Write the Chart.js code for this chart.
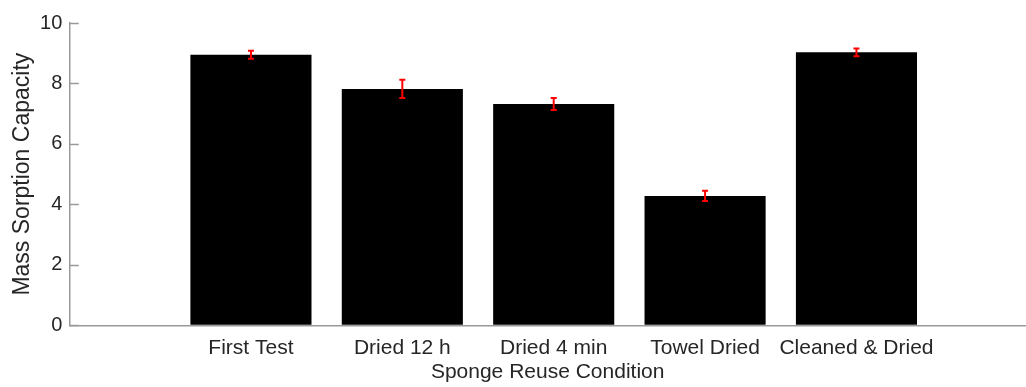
<!DOCTYPE html>
<html>
<head>
<meta charset="utf-8">
<script src="https://cdn.jsdelivr.net/npm/chart.js@4/dist/chart.umd.min.js"></script>
<style>
  html, body { margin: 0; padding: 0; background: #fff; overflow: hidden; }
  #wrap { width: 1026px; height: 387px; }
</style>
</head>
<body>
<div id="wrap"><canvas id="c" width="1026" height="387"></canvas></div>
<script>
// Sponge reuse test results
const categories = ['First Test', 'Dried 12 h', 'Dried 4 min', 'Towel Dried', 'Cleaned & Dried'];
const capacity = [8.95, 7.82, 7.32, 4.28, 9.03];
const capacityErr = [0.13, 0.30, 0.20, 0.17, 0.13];
const positions = [1, 2, 3, 4, 5];
const yTicks = [0, 2, 4, 6, 8, 10];

const FONT = "'Liberation Sans', Arial, Helvetica, sans-serif";
const TEXT = '#262626';
const AXIS = '#999999';

// Red error bars with caps, placed through the chart's scales
const errorBars = {
  id: 'errorBars',
  afterDatasetsDraw(chart) {
    const ctx = chart.ctx;
    const y = chart.scales.y;
    const meta = chart.getDatasetMeta(0);
    ctx.save();
    ctx.strokeStyle = '#ff0000';
    ctx.lineWidth = 2;
    meta.data.forEach((bar, i) => {
      const x = bar.x;
      const top = y.getPixelForValue(capacity[i] + capacityErr[i]);
      const bot = y.getPixelForValue(capacity[i] - capacityErr[i]);
      const cap = 3;
      ctx.beginPath();
      ctx.moveTo(x, top); ctx.lineTo(x, bot);
      ctx.moveTo(x - cap, top); ctx.lineTo(x + cap, top);
      ctx.moveTo(x - cap, bot); ctx.lineTo(x + cap, bot);
      ctx.stroke();
    });
    ctx.restore();
  }
};

// Inward-pointing tick marks on the value axis
const inwardTicks = {
  id: 'inwardTicks',
  afterDraw(chart) {
    const ctx = chart.ctx;
    const y = chart.scales.y;
    const x0 = chart.chartArea.left;
    ctx.save();
    ctx.strokeStyle = AXIS;
    ctx.lineWidth = 1.5;
    yTicks.forEach(v => {
      const py = Math.round(y.getPixelForValue(v)) + 0.5;
      ctx.beginPath();
      ctx.moveTo(x0, py);
      ctx.lineTo(x0 + 9.5, py);
      ctx.stroke();
    });
    ctx.restore();
  }
};

new Chart(document.getElementById('c'), {
  type: 'bar',
  data: {
    datasets: [{
      data: positions.map((p, i) => ({ x: p, y: capacity[i] })),
      backgroundColor: '#000000',
      borderWidth: 0,
      categoryPercentage: 1.0,
      barPercentage: 0.8
    }]
  },
  options: {
    responsive: false,
    animation: false,
    devicePixelRatio: 1,
    layout: { padding: { top: 23, right: 0, left: 0, bottom: 0 } },
    plugins: { legend: { display: false }, tooltip: { enabled: false } },
    scales: {
      x: {
        type: 'linear',
        offset: false,
        min: -0.2,
        max: 6.12,
        afterBuildTicks: (scale) => { scale.ticks = positions.map(v => ({ value: v })); },
        afterFit: (scale) => { scale.height = 61.7; },
        grid: { display: true, drawOnChartArea: false, drawTicks: false, color: 'rgba(0,0,0,0)' },
        border: { display: true, color: AXIS, width: 1.5 },
        ticks: {
          autoSkip: false,
          maxRotation: 0,
          padding: 10,
          color: TEXT,
          font: { family: FONT, size: 21 },
          callback: (v) => categories[v - 1]
        },
        title: {
          display: true,
          text: 'Sponge Reuse Condition',
          color: TEXT,
          font: { family: FONT, size: 21 },
          padding: { top: 0, bottom: 2 }
        }
      },
      y: {
        min: 0,
        max: 10,
        afterBuildTicks: (scale) => { scale.ticks = yTicks.map(v => ({ value: v })); },
        afterFit: (scale) => { scale.width = 69.3; },
        grid: { display: true, drawOnChartArea: false, drawTicks: false, color: 'rgba(0,0,0,0)' },
        border: { display: true, color: AXIS, width: 1.5 },
        ticks: {
          padding: 7,
          color: TEXT,
          font: { family: FONT, size: 20 }
        },
        title: {
          display: true,
          text: 'Mass Sorption Capacity',
          color: TEXT,
          font: { family: FONT, size: 23 },
          padding: { top: 9, bottom: 0 }
        }
      }
    }
  },
  plugins: [errorBars, inwardTicks]
});
</script>
</body>
</html>
